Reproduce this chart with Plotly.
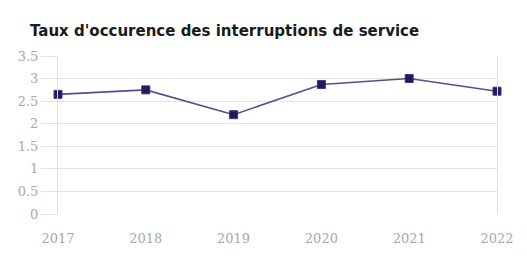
import plotly.graph_objects as go

years = ["2017", "2018", "2019", "2020", "2021", "2022"]
taux = [2.65, 2.75, 2.2, 2.87, 3.0, 2.72]
y_ticks = [0, 0.5, 1, 1.5, 2, 2.5, 3, 3.5]
y_tick_labels = ["0", "0.5", "1", "1.5", "2", "2.5", "3", "3.5"]

fig = go.Figure()
fig.add_trace(go.Scatter(
    x=list(range(len(years))), y=taux, mode="lines+markers",
    line=dict(color="#514f90", width=1.6),
    marker=dict(symbol="square", size=8, color="#1e1b5c",
                line=dict(color="#3a3880", width=1)),
    cliponaxis=False, showlegend=False,
))

fig.update_layout(
    width=527, height=259,
    margin=dict(l=58, r=30, t=56, b=45),
    paper_bgcolor="white", plot_bgcolor="white",
    title=dict(text="Taux d'occurence des interruptions de service",
               x=30/527, xanchor="left", xref="container",
               y=1-31/259, yanchor="middle", yref="container",
               font=dict(family="DejaVu Sans", size=15, color="#1a1a1a", weight="bold")),
    xaxis=dict(range=[0, 5], tickvals=list(range(len(years))), ticktext=years,
               showgrid=False, zeroline=False, automargin=False,
               showline=False, ticks="", ticklabelstandoff=15,
               tickfont=dict(family="DejaVu Serif", size=13, color="#a8a8a8")),
    yaxis=dict(range=[0, 3.5], tickvals=y_ticks, ticktext=y_tick_labels,
               showgrid=True, gridcolor="#e3e3e3", gridwidth=1, zeroline=False,
               automargin=False,
               showline=True, linecolor="#e0e0e0", linewidth=1, mirror=True,
               ticks="outside", ticklen=16, tickcolor="#e3e3e3",
               tickfont=dict(family="DejaVu Serif", size=13, color="#a8a8a8")),
)

fig.write_html("out.html", config={"displayModeBar": False},
               post_script="document.body.style.margin='0';document.body.style.overflow='hidden';")
